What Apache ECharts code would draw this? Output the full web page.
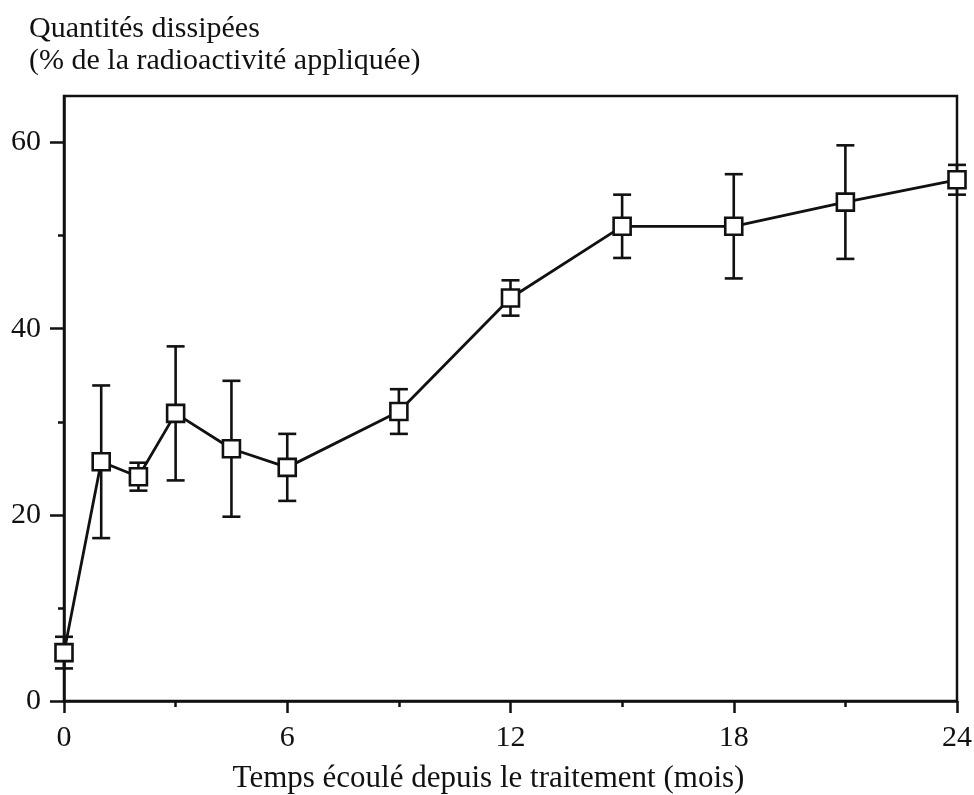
<!DOCTYPE html>
<html>
<head>
<meta charset="utf-8">
<script src="https://cdn.jsdelivr.net/npm/echarts@6/dist/echarts.min.js"></script>
<style>
html,body{margin:0;padding:0;background:#fff;}
#chart{width:974px;height:795px;}
</style>
</head>
<body>
<div id="chart"></div>
<script>
// Data
const months = [0, 1, 2, 3, 4.5, 6, 9, 12, 15, 18, 21, 24];
const meanValues = [5.2, 25.7, 24.1, 30.9, 27.1, 25.1, 31.1, 43.3, 51.0, 51.0, 53.6, 56.0];
const errValues = [1.7, 8.2, 1.5, 7.2, 7.3, 3.6, 2.4, 1.9, 3.4, 5.6, 6.1, 1.6];
const yTickValues = [0, 20, 40, 60];
const yMinorTickValues = [10, 30, 50];
const xTickValues = [0, 6, 12, 18, 24];
const yTitle = 'Quantités dissipées\n(% de la radioactivité appliquée)';
const xTitle = 'Temps écoulé depuis le traitement (mois)';

const FONT = '"Liberation Serif", "DejaVu Serif", serif';
const lineData = months.map((m, i) => [m, meanValues[i]]);
const errData = months.map((m, i) => [m, meanValues[i] - errValues[i], meanValues[i] + errValues[i]]);

const chart = echarts.init(document.getElementById('chart'), null, {renderer: 'canvas'});
chart.setOption({
  animation: false,
  backgroundColor: '#fff',
  title: {
    text: yTitle,
    left: 24,
    top: 8,
    textStyle: {fontFamily: FONT, fontSize: 30, fontWeight: 'normal', color: '#111', lineHeight: 32}
  },
  grid: {
    left: 64, right: 17, top: 96, bottom: 94,
    show: true, borderColor: '#111', borderWidth: 2.5, backgroundColor: 'transparent',
    containLabel: false,
    outerBoundsMode: 'none'
  },
  xAxis: {
    type: 'value', min: 0, max: 24, interval: 6,
    name: xTitle, nameLocation: 'middle', nameGap: 62,
    nameTextStyle: {fontFamily: FONT, fontSize: 31, color: '#111', padding: [0, 44, 0, 0]},
    axisLine: {show: true, onZero: false, lineStyle: {color: '#111', width: 2.5}},
    axisTick: {show: true, inside: false, length: 12, lineStyle: {color: '#111', width: 2.5}, customValues: xTickValues},
    minorTick: {show: true, splitNumber: 2, length: 6, lineStyle: {color: '#111', width: 2.5}},
    axisLabel: {fontFamily: FONT, fontSize: 30, color: '#111', margin: 22, customValues: xTickValues},
    splitLine: {show: false}
  },
  yAxis: [{
    type: 'value', min: 0, max: 65,
    position: 'left',
    axisLine: {show: true, onZero: false, lineStyle: {color: '#111', width: 2.5}},
    axisTick: {show: true, inside: false, length: 14, lineStyle: {color: '#111', width: 2.5}, customValues: yTickValues},
    axisLabel: {fontFamily: FONT, fontSize: 30, color: '#111', margin: 23, customValues: yTickValues},
    splitLine: {show: false},
    minorTick: {show: false}
  }, {
    type: 'value', min: 0, max: 65,
    position: 'left', offset: 0,
    axisLine: {show: false},
    axisTick: {show: true, inside: false, length: 6, lineStyle: {color: '#111', width: 2.5}, customValues: yMinorTickValues},
    axisLabel: {show: false},
    splitLine: {show: false}
  }],
  series: [{
    type: 'custom',
    name: 'err',
    z: 1,
    data: errData,
    renderItem: function (params, api) {
      const x = api.value(0);
      const lo = api.coord([x, api.value(1)]);
      const hi = api.coord([x, api.value(2)]);
      const hw = 9;
      const style = {stroke: '#111', lineWidth: 2.6, fill: null};
      return {
        type: 'group',
        children: [
          {type: 'line', shape: {x1: lo[0], y1: lo[1], x2: hi[0], y2: hi[1]}, style: style},
          {type: 'line', shape: {x1: lo[0] - hw, y1: lo[1], x2: lo[0] + hw, y2: lo[1]}, style: style},
          {type: 'line', shape: {x1: hi[0] - hw, y1: hi[1], x2: hi[0] + hw, y2: hi[1]}, style: style}
        ]
      };
    }
  }, {
    type: 'line',
    z: 3,
    data: lineData,
    symbol: 'rect',
    symbolSize: 17,
    showAllSymbol: true,
    lineStyle: {color: '#111', width: 2.8},
    itemStyle: {color: '#fff', borderColor: '#111', borderWidth: 2.6}
  }]
});
</script>
</body>
</html>
